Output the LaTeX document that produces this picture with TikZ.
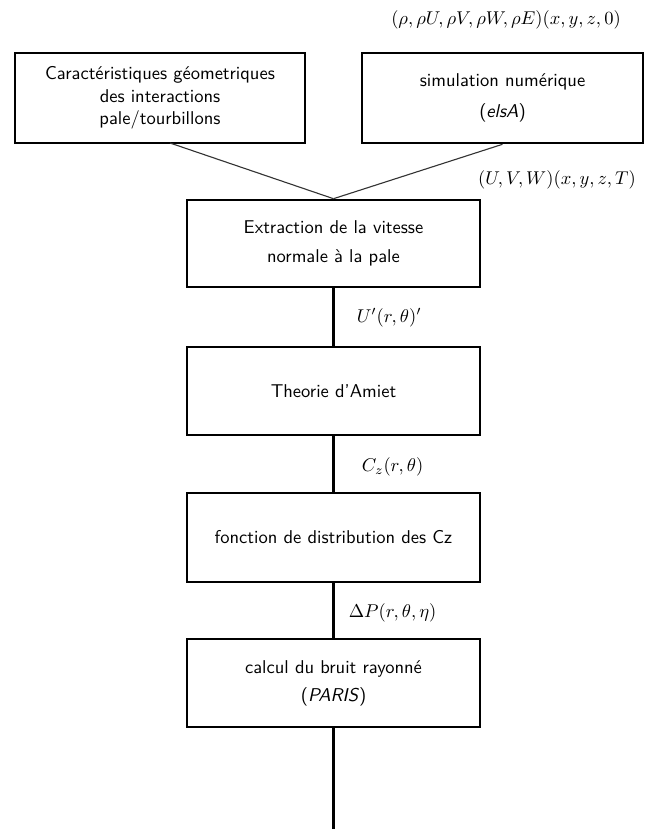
\documentclass[tikz,border=0pt]{standalone}
\usepackage{fontspec}
\usepackage{amsmath}
\usepackage{tikz}
\usetikzlibrary{positioning}

\begin{document}
\begin{tikzpicture}[x=0.54pt,y=0.54pt,yscale=-1,xscale=1,
  boite/.style={draw, line width=1.4pt, minimum width=293*0.54pt, minimum height=88*0.54pt, align=center, font=\sffamily, inner sep=0pt},
  lien/.style={line width=1.2pt},
  oblique/.style={line width=0.6pt, color=black!80}]
%set diagram size: 645 x 829
\useasboundingbox (0,0) rectangle (645,829);

%Shape: Rectangle [id:geo]
\node [boite, minimum width=290*0.54pt, minimum height=90*0.54pt] (geo) at (160,98) {Caractéristiques géometriques\\des interactions\\pale/tourbillons};
%Shape: Rectangle [id:simu]
\node [boite, minimum width=281*0.54pt, minimum height=90*0.54pt] (simu) at (502.5,98) {simulation numérique\\[5pt](\textit{elsA})};
%Shape: Rectangle [id:extr]
\node [boite, minimum height=87*0.54pt] (extr) at (333.5,243.5) {Extraction de la vitesse\\[4pt]normale à la pale};
%Shape: Rectangle [id:amiet]
\node [boite] (amiet) at (333.5,391) {Theorie d'Amiet};
%Shape: Rectangle [id:distr]
\node [boite, minimum height=89*0.54pt] (distr) at (333.5,537.5) {fonction de distribution des Cz};
%Shape: Rectangle [id:paris]
\node [boite] (paris) at (333.5,683) {calcul du bruit rayonné\\[3pt](\textit{PARIS})};

\coordinate (geobas) at (170,143);
\coordinate (sortie) at (333.5,829);

% Connectors
\draw [oblique] (geobas) -- (extr.north);
\draw [oblique] (simu.south) -- (extr.north);
\draw [lien] (extr.south) -- (amiet.north);
\draw [lien] (amiet.south) -- (distr.north);
\draw [lien] (distr.south) -- (paris.north);
\draw [lien] (paris.south) -- (sortie);

% Text Node
\node [inner sep=0.75pt] (etat) at (506,20) {$(\rho,\rho U,\rho V,\rho W,\rho E)(x,y,z,0)$};
% Text Node
\node [inner sep=0.75pt] (vit) at (557,180) {$(U,V,W)(x,y,z,T)$};
% Text Node
\node [anchor=west, inner sep=0.75pt] (unorm) at (355,318) {$U'(r,\theta)'$};
% Text Node
\node [anchor=west, inner sep=0.75pt] (cz) at (360,467) {$C_z(r,\theta)$};
% Text Node
\node [anchor=west, inner sep=0.75pt] (dp) at (347,613) {$\Delta P(r,\theta,\eta)$};

\end{tikzpicture}
\end{document}
